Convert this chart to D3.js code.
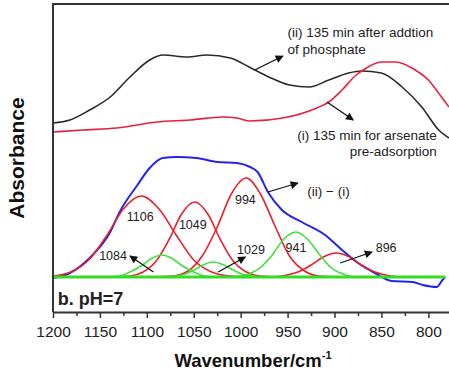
<!DOCTYPE html>
<html>
<head>
<meta charset="utf-8">
<style>
  body { margin: 0; background: #fff; }
  svg { display: block; font-family: "Liberation Sans", Arial, sans-serif; }
</style>
</head>
<body>
<script src="https://d3js.org/d3.v7.min.js"></script>
<script>
// spectra: [wavenumber cm-1, absorbance a.u.]
var specII = [[1200,1.54],[1182,1.57],[1161,1.67],[1139,1.80],[1118,2.00],[1097,2.17],[1083,2.22],
  [1057,2.20],[1036,2.22],[1011,2.19],[991,2.10],[970,2.00],[948,1.92],[927,1.90],[906,1.97],
  [885,2.04],[871,2.06],[850,2.04],[828,1.90],[807,1.70],[789,1.47],[778,1.39]];
var specI = [[1200,1.45],[1168,1.47],[1132,1.49],[1089,1.55],[1054,1.57],[1019,1.60],[1004,1.59],
  [990,1.56],[955,1.59],[919,1.69],[906,1.75],[892,1.87],[877,2.02],[871,2.06],[850,2.15],
  [835,2.15],[814,2.07],[800,1.97],[786,1.80],[778,1.70]];
var specDiff = [[1200,-0.01],[1182,0.04],[1161,0.19],[1139,0.45],[1129,0.65],[1110,0.92],[1097,1.09],
  [1083,1.19],[1068,1.20],[1047,1.19],[1025,1.15],[1004,1.14],[990,1.10],[982,1.05],[971,0.85],
  [956,0.67],[935,0.55],[910,0.42],[892,0.27],[875,0.14],[857,0.04],[839,-0.04],[817,-0.05],
  [806,-0.08],[791,-0.10],[785,-0.03],[782,0.0]];

// fitted components
var peak1106 = [[1200,0.01],[1181,0.05],[1162,0.17],[1143,0.41],[1125,0.68],[1106,0.81],[1087,0.68],
  [1068,0.41],[1050,0.17],[1031,0.05],[1012,0.01],[990,0]];
var peak1049 = [[1140,0],[1118,0.01],[1104,0.05],[1090,0.16],[1076,0.38],[1063,0.63],[1049,0.75],
  [1035,0.63],[1022,0.38],[1008,0.16],[994,0.05],[980,0.01],[960,0]];
var peak994 = [[1095,0],[1072,0.01],[1056,0.06],[1041,0.21],[1025,0.50],[1010,0.83],[994,0.99],
  [979,0.83],[963,0.50],[948,0.21],[932,0.06],[917,0.01],[895,0]];
var peak896 = [[967,0],[953,0.015],[939,0.05],[925,0.12],[912,0.20],[898,0.24],[884,0.20],
  [871,0.12],[857,0.05],[843,0.015],[829,0]];
var peak1084 = [[1140,0],[1129,0.01],[1118,0.05],[1106,0.11],[1095,0.185],[1084,0.22],[1073,0.185],
  [1062,0.11],[1050,0.05],[1039,0.01],[1028,0]];
var peak1029 = [[1079,0],[1069,0.01],[1059,0.03],[1049,0.075],[1039,0.125],[1029,0.15],[1019,0.125],
  [1009,0.075],[999,0.03],[989,0.01],[979,0]];
var peak941 = [[1004,0],[991,0.03],[979,0.095],[966,0.225],[954,0.38],[941,0.45],[929,0.38],
  [916,0.225],[904,0.095],[891,0.03],[879,0]];
var baseLine = [[1200,0],[782,0]];

var majorTicks = [1200,1150,1100,1050,1000,950,900,850,800];
var minorTicks = [1175,1125,1075,1025,975,925,875,825,775];

// peak labels [text, wavenumber, absorbance]
var peakLabels = [["1106",1107,0.56],["1049",1051,0.48],["994",995,0.73],["1084",1136,0.17],
  ["1029",989,0.23],["941",941,0.25],["896",845,0.25]];
// arrows [from wn, from abs, to wn, to abs]
var arrows = [[985,2.07,955,2.21],[908,1.75,880,1.57],[971,0.85,939,0.94],
  [1093,0.05,1118,0.21],[1024,0.05,995,0.20],[894,0.14,860,0.25]];

var W = 449, H = 372;
var svg = d3.select("body").append("svg").attr("width", W).attr("height", H);

var x = d3.scaleLinear().domain([1200, 778]).range([53, 449]);
var y = d3.scaleLinear().domain([-0.35, 2.73]).range([312, 4]);

var line = d3.line()
  .x(function (d) { return x(d[0]); })
  .y(function (d) { return y(d[1]); })
  .curve(d3.curveMonotoneX);

svg.append("defs").append("marker")
  .attr("id", "head")
  .attr("viewBox", "0 0 10 10")
  .attr("refX", 9).attr("refY", 5)
  .attr("markerWidth", 10).attr("markerHeight", 8)
  .attr("markerUnits", "userSpaceOnUse")
  .attr("orient", "auto")
  .append("path").attr("d", "M0,0L10,5L0,10Z").attr("fill", "#111");

// curves
function draw(data, color, width) {
  svg.append("path").datum(data)
    .attr("d", line)
    .attr("fill", "none")
    .attr("stroke", color)
    .attr("stroke-width", width)
    .attr("stroke-linejoin", "round");
}
draw(specII, "#2a2a2a", 1.6);
draw(specI, "#e8203c", 1.6);
draw(specDiff, "#2424ee", 2);
[peak1106, peak1049, peak994, peak896].forEach(function (p) { draw(p, "#e8202a", 1.6); });
[peak1084, peak1029, peak941].forEach(function (p) { draw(p, "#3ee03e", 1.6); });
draw(baseLine, "#33dd22", 3);

// frame
svg.append("path")
  .attr("d", "M53,312V4H452")
  .attr("fill", "none").attr("stroke", "#333").attr("stroke-width", 2);

// x axis
var gx = svg.append("g").attr("transform", "translate(0,312)");
gx.call(d3.axisBottom(x).tickValues(majorTicks).tickSize(6).tickSizeOuter(0).tickPadding(8)
  .tickFormat(d3.format("d")));
gx.append("g").call(d3.axisBottom(x).tickValues(minorTicks).tickSize(4).tickFormat(""))
  .select(".domain").remove();
gx.selectAll("path.domain").attr("stroke", "#333").attr("stroke-width", 2);
gx.selectAll("line").attr("stroke", "#333").attr("stroke-width", 1.5);
gx.selectAll("text").attr("fill", "#222").attr("font-size", "15.5px")
  .attr("font-family", "Liberation Sans, Arial, sans-serif");

// axis titles
var xt = svg.append("text")
  .attr("x", 253).attr("y", 367)
  .attr("text-anchor", "middle")
  .attr("font-size", "18.5px").attr("font-weight", "bold").attr("fill", "#111");
xt.append("tspan").text("Wavenumber/cm");
xt.append("tspan").attr("dy", -8).attr("font-size", "11px").text("-1");

svg.append("text")
  .attr("transform", "translate(24,158) rotate(-90)")
  .attr("text-anchor", "middle")
  .attr("font-size", "21px").attr("font-weight", "bold").attr("fill", "#111")
  .text("Absorbance");

// annotations
function label(txt, wn, ab, size, anchor, weight) {
  svg.append("text")
    .attr("x", x(wn)).attr("y", y(ab))
    .attr("text-anchor", anchor || "start")
    .attr("font-size", size + "px")
    .attr("font-weight", weight || "normal")
    .attr("fill", "#222")
    .text(txt);
}
label("(ii) 135 min after addtion", 950, 2.40, 13.5);
label("of phosphate", 950, 2.23, 13.5);
label("(i) 135 min for arsenate", 791, 1.37, 13.5, "end");
label("pre-adsorption", 791, 1.21, 13.5, "end");
label("(ii) \u2212 (i)", 929, 0.81, 13.5);
peakLabels.forEach(function (d) { label(d[0], d[1], d[2], 12.5, "middle"); });
label("b. pH=7", 1195, -0.28, 18, "start", "bold");

svg.selectAll(".arrow").data(arrows).enter().append("line")
  .attr("class", "arrow")
  .attr("x1", function (d) { return x(d[0]); })
  .attr("y1", function (d) { return y(d[1]); })
  .attr("x2", function (d) { return x(d[2]); })
  .attr("y2", function (d) { return y(d[3]); })
  .attr("stroke", "#111").attr("stroke-width", 1.3)
  .attr("marker-end", "url(#head)");
</script>
</body>
</html>
